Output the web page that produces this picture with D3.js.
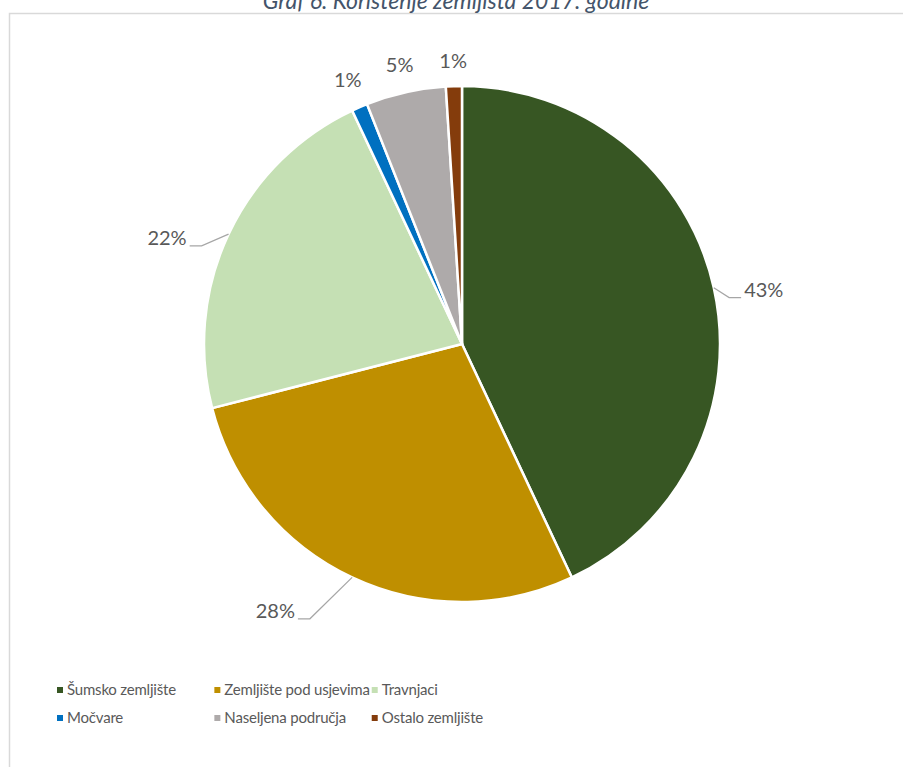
<!DOCTYPE html>
<html>
<head>
<meta charset="utf-8">
<script src="https://cdn.jsdelivr.net/npm/d3@7"></script>
<style>
  html, body { margin: 0; padding: 0; background: #ffffff; }
  svg { display: block; }
  text { font-family: Lato, "Open Sans", "Liberation Sans", sans-serif; }
</style>
</head>
<body>
<svg id="chart" width="903" height="767"></svg>
<script>
// Land use categories and their shares (%) in 2017
const categories = [
  "Šumsko zemljište",
  "Zemljište pod usjevima",
  "Travnjaci",
  "Močvare",
  "Naseljena područja",
  "Ostalo zemljište"
];
const shares = [43, 28, 22, 1, 5, 1];
const valueLabels = ["43%", "28%", "22%", "1%", "5%", "1%"];
const sliceColors = ["#375623", "#bf8f00", "#c5e0b4", "#0070c0", "#aeaaaa", "#843c0c"];
const chartTitle = "Graf 6. Korištenje zemljišta 2017. godine";

const W = 903, H = 767;
const svg = d3.select("#chart");

// chart frame (runs off the right and bottom of the page)
svg.append("rect")
  .attr("x", 9.5).attr("y", 13.5)
  .attr("width", W + 40).attr("height", H + 40)
  .attr("fill", "none")
  .attr("stroke", "#d9d9d9")
  .attr("stroke-width", 1.5);

// title, partly cut off by the top edge
svg.append("text")
  .attr("x", 456).attr("y", 9)
  .attr("text-anchor", "middle")
  .attr("font-size", 23)
  .attr("font-style", "italic")
  .attr("fill", "#44546a")
  .text(chartTitle);

// pie
const cx = 462, cy = 344, R = 258;
const data = categories.map((c, i) => ({ name: c, value: shares[i], label: valueLabels[i], color: sliceColors[i] }));
const pie = d3.pie().sort(null).value(d => d.value);
const arcs = pie(data);
const arc = d3.arc().innerRadius(0).outerRadius(R);

const g = svg.append("g").attr("transform", `translate(${cx},${cy})`);
g.selectAll("path.slice")
  .data(arcs)
  .join("path")
  .attr("class", "slice")
  .attr("d", arc)
  .attr("fill", d => d.data.color)
  .attr("stroke", "#ffffff")
  .attr("stroke-width", 2.5)
  .attr("stroke-linejoin", "round");

// data labels: large slices get a leader line, small ones sit just outside the rim
const labelG = g.append("g");
arcs.forEach(d => {
  const a = (d.startAngle + d.endAngle) / 2;
  const s = Math.sin(a), c = Math.cos(a);
  const t = labelG.append("text")
    .attr("font-size", 20)
    .attr("fill", "#595959")
    .attr("text-anchor", "middle")
    .attr("dy", "0.36em")
    .text(d.data.label);
  const w = t.node().getComputedTextLength();
  if (d.data.value >= 10) {
    const side = s >= 0 ? 1 : -1;
    const lx = (R + 36) * s + 68 * Math.abs(c) * side;
    const ly = -(R + 28) * c + 8 + 18 * Math.abs(c) * (c > 0 && s < 0 ? 1 : 0);
    t.attr("x", lx).attr("y", ly);
    const edge = lx - side * (w / 2 + 3);
    const elbow = edge - side * 12;
    const yLine = ly + 8;
    labelG.append("path")
      .attr("d", d3.line()([[R * s, -R * c], [elbow, yLine], [edge, yLine]]))
      .attr("fill", "none")
      .attr("stroke", "#a6a6a6")
      .attr("stroke-width", 1.2);
  } else {
    const h = 16, gap = 17;
    const dist = R + gap + Math.abs(s) * w / 2 + Math.abs(c) * h / 2;
    t.attr("x", dist * s).attr("y", -dist * c);
  }
});

// legend: three equal columns sized to the widest entry, two rows
const legendLeft = 57, legendTop = 690, rowStep = 28, legendFont = 15;
const marker = 6, markerGap = 4, colGap = 2;
const lg = svg.append("g");
const items = data.map(d => {
  const item = lg.append("g");
  item.append("rect")
    .attr("y", -marker / 2)
    .attr("width", marker).attr("height", marker)
    .attr("fill", d.color);
  const t = item.append("text")
    .attr("x", marker + markerGap)
    .attr("dy", "0.36em")
    .attr("font-size", legendFont)
    .attr("letter-spacing", -0.2)
    .attr("fill", "#595959")
    .text(d.name);
  return { item, w: marker + markerGap + t.node().getComputedTextLength() };
});
const colW = d3.max(items, d => d.w) + colGap;
items.forEach((it, i) => {
  it.item.attr("transform",
    `translate(${legendLeft + (i % 3) * colW},${legendTop + Math.floor(i / 3) * rowStep})`);
});
</script>
</body>
</html>
